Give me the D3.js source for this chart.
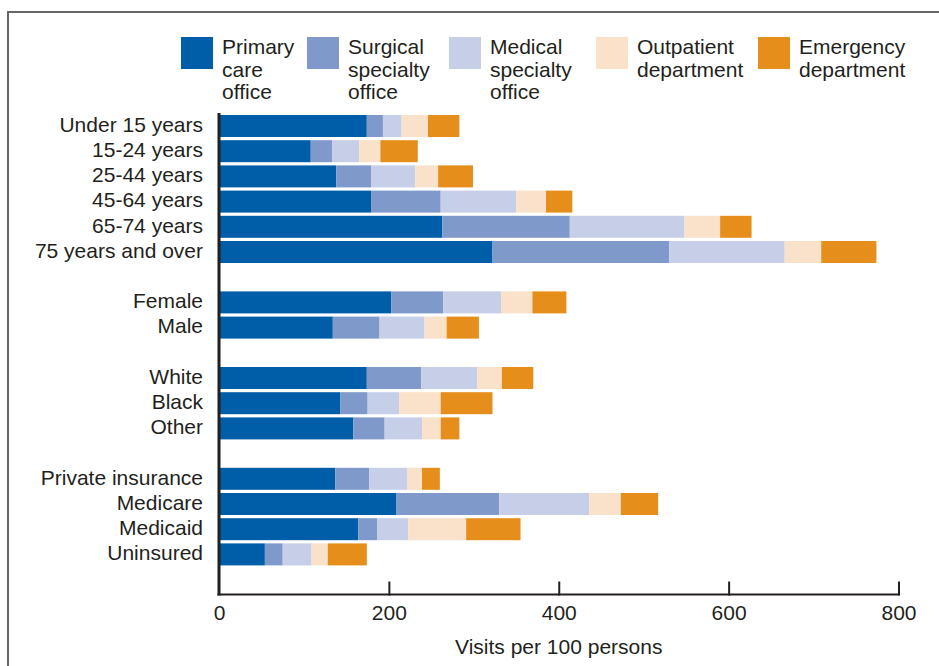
<!DOCTYPE html>
<html>
<head>
<meta charset="utf-8">
<script src="https://cdn.jsdelivr.net/npm/d3@7"></script>
<style>
  html, body { margin: 0; padding: 0; background: #fff; }
  svg { display: block; }
  text { font-family: "Liberation Sans", Arial, Helvetica, sans-serif; fill: #231f20; }
</style>
</head>
<body>
<svg id="chart" width="939" height="666"></svg>
<script>
// ---- Data ----
const seriesNames = ["Primary care office", "Surgical specialty office", "Medical specialty office", "Outpatient department", "Emergency department"];
const legendLines = [["Primary", "care", "office"], ["Surgical", "specialty", "office"], ["Medical", "specialty", "office"], ["Outpatient", "department"], ["Emergency", "department"]];
const seriesColors = ["#005da8", "#7f99ca", "#c6cee8", "#f9e2c9", "#e68e1b"];

const groupAge = ["Under 15 years", "15-24 years", "25-44 years", "45-64 years", "65-74 years", "75 years and over"];
const groupSex = ["Female", "Male"];
const groupRace = ["White", "Black", "Other"];
const groupInsurance = ["Private insurance", "Medicare", "Medicaid", "Uninsured"];

const primaryCare = [174, 108, 138, 179, 263, 322, 203, 134, 174, 143, 158, 137, 209, 164, 54];
const surgical    = [ 19,  25,  41,  82, 150, 208,  61,  55,  64,  32,  37,  40, 121,  22, 21];
const medical     = [ 22,  32,  52,  89, 135, 136,  68,  53,  66,  37,  44,  45, 106,  37, 34];
const outpatient  = [ 31,  25,  27,  35,  42,  43,  37,  26,  29,  49,  22,  17,  37,  68, 19];
const emergency   = [ 37,  44,  41,  31,  37,  65,  40,  38,  37,  61,  22,  21,  44,  64, 46];

const xTicks = [0, 200, 400, 600, 800];
const xTitle = "Visits per 100 persons";

// ---- Build ----
const groups = [groupAge, groupSex, groupRace, groupInsurance];
const categories = groups.flat();
const domain = [];
groups.forEach((g, i) => { if (i > 0) domain.push("__gap" + i); g.forEach(c => domain.push(c)); });

const table = categories.map((c, i) => ({
  category: c,
  [seriesNames[0]]: primaryCare[i],
  [seriesNames[1]]: surgical[i],
  [seriesNames[2]]: medical[i],
  [seriesNames[3]]: outpatient[i],
  [seriesNames[4]]: emergency[i]
}));

const stacked = d3.stack().keys(seriesNames)(table);

const svg = d3.select("#chart");

const x = d3.scaleLinear().domain([0, 800]).range([219, 898.5]);
const step = 25.2;
const y = d3.scaleBand().domain(domain)
  .range([113.4, 113.4 + domain.length * step])
  .paddingInner(3.2 / 25.2).paddingOuter(1.6 / 25.2);
const color = d3.scaleOrdinal().domain(seriesNames).range(seriesColors);

// frame
svg.append("path").attr("d", "M8,666 L8,12 L939,12")
  .attr("fill", "none").attr("stroke", "#666").attr("stroke-width", 2);

// bars
svg.append("g").selectAll("g").data(stacked).join("g")
  .attr("fill", d => color(d.key))
  .selectAll("rect").data(d => d).join("rect")
  .attr("x", d => x(d[0]))
  .attr("y", d => y(d.data.category))
  .attr("width", d => x(d[1]) - x(d[0]))
  .attr("height", y.bandwidth());

// category labels
svg.append("g").selectAll("text").data(categories).join("text")
  .attr("x", 203)
  .attr("y", d => y(d) + y.bandwidth() / 2)
  .attr("dy", "0.28em")
  .attr("text-anchor", "end")
  .attr("font-size", 21)
  .text(d => d);

// x axis
const axisY = 594.5;
const xAxis = d3.axisBottom(x).tickValues(xTicks).tickSize(0).tickPadding(11).tickFormat(d3.format("d"));
const gx = svg.append("g").attr("transform", `translate(0,${axisY})`).call(xAxis);
gx.select(".domain").attr("stroke", "#231f20").attr("stroke-width", 2)
  .attr("d", `M${x(0) - 1.5},0H${x(800) + 1}`);
gx.selectAll(".tick text").attr("font-size", 21).attr("font-family", "'Liberation Sans', Arial, sans-serif").attr("fill", "#231f20");
gx.selectAll(".tick").filter(d => d !== 0).append("line")
  .attr("y1", 1).attr("y2", -13).attr("stroke", "#231f20").attr("stroke-width", 2);

// y axis line
svg.append("line").attr("x1", x(0)).attr("x2", x(0)).attr("y1", 113).attr("y2", axisY + 1)
  .attr("stroke", "#231f20").attr("stroke-width", 3);

// axis title
svg.append("text").attr("x", (x(0) + x(800)) / 2).attr("y", 654)
  .attr("text-anchor", "middle").attr("font-size", 21).text(xTitle);

// legend
const legendX = [181, 307, 449, 596, 758];
const leg = svg.append("g").selectAll("g").data(seriesNames).join("g")
  .attr("transform", (d, i) => `translate(${legendX[i]},37)`);
leg.append("rect").attr("width", 32).attr("height", 32).attr("fill", d => color(d));
leg.append("text").attr("x", 41).attr("font-size", 21)
  .selectAll("tspan").data((d, i) => legendLines[i]).join("tspan")
  .attr("x", 41).attr("y", (d, j) => 17 + j * 22.5).text(d => d);
</script>
</body>
</html>
